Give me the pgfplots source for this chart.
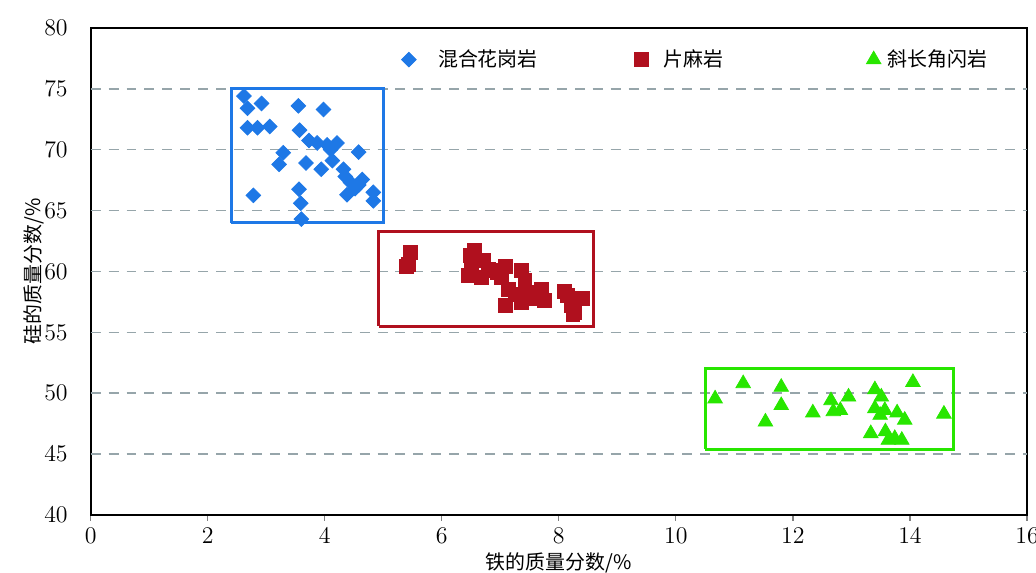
\documentclass[border=0pt]{standalone}
\usepackage{pgfplots}
\pgfplotsset{compat=1.18}
\usepackage{fontspec}
\newfontfamily\cjk{Noto Sans CJK SC}
\definecolor{cblue}{RGB}{30,120,230}
\definecolor{cred}{RGB}{176,16,30}
\definecolor{cgreen}{RGB}{40,230,0}
\definecolor{cgrid}{RGB}{150,165,170}
\begin{document}
\begin{tikzpicture}
\begin{axis}[
  name=ax,
  scale only axis,
  width=470pt, height=244.5pt,
  xmin=0, xmax=16, ymin=40, ymax=80,
  xtick={0,2,...,16}, ytick={40,45,...,80},
  axis line style={black, line width=1pt},
  tick label style={font=\fontsize{11.5}{13}\selectfont},
  x tick style={draw=gray, line width=0.6pt},
  y tick style={draw=none},
  tick align=outside,
  major tick length=3pt,
  xtick pos=bottom, ytick pos=left,
  yticklabel style={xshift=-5pt},
  extra y ticks={45,50,55,60,65,70,75},
  extra y tick labels={},
  extra y tick style={grid=major, major grid style={cgrid, line width=0.8pt, dash pattern=on 5pt off 4pt}},
  xlabel={\cjk 铁的质量分数/\%},
  ylabel={\cjk 硅的质量分数/\%},
  label style={font=\fontsize{10}{12}\selectfont},
  xlabel style={yshift=2pt},
  ylabel style={yshift=-13pt},
  legend columns=3,
  legend style={draw=none, fill=none, at={(0.3252,0.935)}, anchor=west,
    font=\fontsize{10}{12}\selectfont, /tikz/every even column/.append style={column sep=0pt}},
  legend cell align=left,
]
% boxes
\addplot[cblue, line width=1.5pt, forget plot] coordinates {(2.4,64) (5.0,64) (5.0,75) (2.4,75) (2.4,64)};
\addplot[cred, line width=1.5pt, forget plot] coordinates {(4.92,55.5) (8.6,55.5) (8.6,63.25) (4.92,63.25) (4.92,55.5)};
\addplot[cgreen, line width=1.5pt, forget plot] coordinates {(10.5,45.4) (14.75,45.4) (14.75,52) (10.5,52) (10.5,45.4)};
% granite
\addplot[only marks, mark=square*, mark size=2.6pt, mark options={draw=cblue, fill=cblue, rotate=45}] coordinates {
(2.62,74.4) (2.68,73.4) (2.92,73.8) (3.55,73.6) (3.98,73.3)
(2.68,71.8) (2.85,71.8) (3.06,71.9) (3.57,71.6) (3.73,70.75)
(3.87,70.55) (4.04,70.4) (4.21,70.55) (4.10,70.0) (4.58,69.8)
(3.29,69.75) (3.22,68.8) (3.68,68.9) (4.13,69.1) (3.94,68.4)
(4.32,68.4) (4.35,67.8) (4.64,67.55) (4.58,67.1) (4.38,66.3)
(4.83,66.5) (4.83,65.8) (2.78,66.25) (3.56,66.75) (3.59,65.6)
(3.60,64.3) (4.44,67.3) (4.52,66.8)
};
\addlegendentry{\makebox[105.5pt][l]{\hspace*{9pt}\cjk 混合花岗岩}}
% gneiss
\addplot[only marks, mark=square*, mark size=3.5pt, mark options={draw=cred, fill=cred}] coordinates {
(5.47,61.55) (5.43,60.6) (5.40,60.4) (6.56,61.7) (6.48,61.3)
(6.71,60.9) (6.51,60.3) (6.45,59.65) (6.68,59.5) (6.88,60.05)
(7.08,60.45) (7.02,59.5) (7.13,58.55) (7.36,60.05) (7.42,59.25)
(7.25,58.15) (7.08,57.2) (7.47,58.3) (7.70,58.55) (7.76,57.6)
(7.59,57.75) (7.36,57.45) (8.15,58.0) (8.21,57.2) (8.41,57.75)
(8.24,56.5) (8.27,56.65) (8.10,58.4) (6.80,60.2) (6.95,59.9)
};
\addlegendentry{\makebox[105.5pt][l]{\hspace*{5.5pt}\cjk 片麻岩}}
% amphibolite
\addplot[only marks, mark=triangle*, mark size=4.2pt, mark options={draw=cgreen, fill=cgreen}] coordinates {
(10.67,49.55) (11.15,50.8) (11.80,50.5) (11.80,49.0) (11.53,47.65)
(12.34,48.4) (12.65,49.4) (12.95,49.7) (12.69,48.5) (12.81,48.6)
(13.40,50.3) (13.51,49.7) (13.40,48.75) (13.49,48.2) (13.57,48.6)
(13.78,48.4) (13.91,47.8) (14.05,50.9) (14.58,48.3) (13.33,46.7)
(13.58,46.85) (13.63,46.15) (13.74,46.3) (13.86,46.15)
};
\addlegendentry{\hspace*{1.5pt}\cjk 斜长角闪岩}
\end{axis}
\pgfresetboundingbox
\path (ax.south west)+(-45.5pt,-29pt) coordinate (bl);
\path (ax.south west)+(474.5pt,258.5pt) coordinate (tr);
\path[use as bounding box] (bl) rectangle (tr);
\end{tikzpicture}
\end{document}
